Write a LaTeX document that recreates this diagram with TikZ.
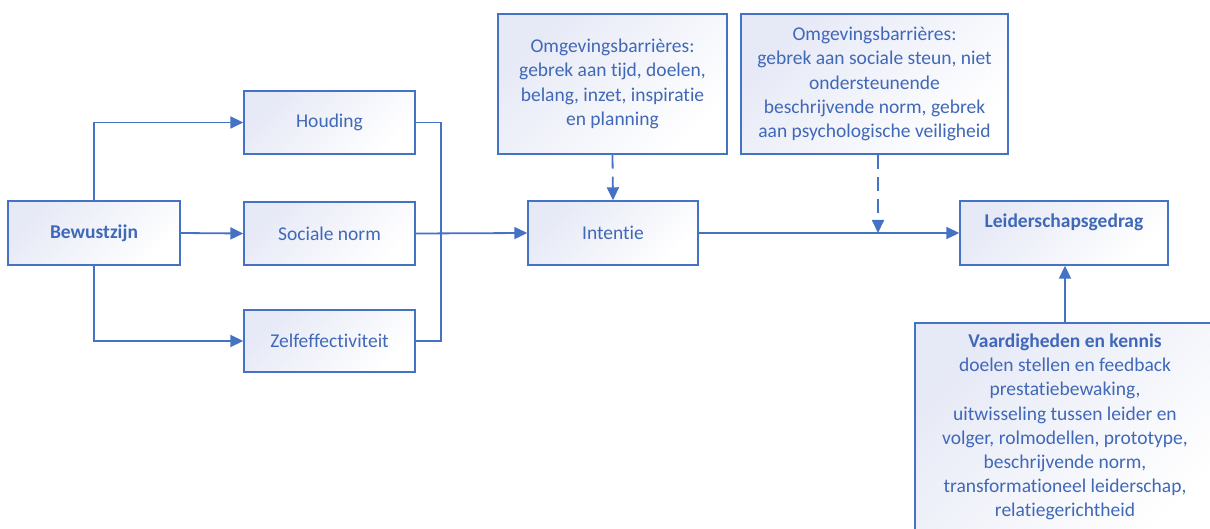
\documentclass[tikz,border=0pt]{standalone}
\usepackage{fontspec}
\setmainfont{Carlito}[Ligatures=NoCommon]
\usetikzlibrary{arrows.meta}
\definecolor{lineblue}{RGB}{68,114,196}
\definecolor{textblue}{RGB}{64,104,184}
\definecolor{boxtint}{RGB}{230,233,246}
\tikzset{
  box/.style={draw=lineblue, line width=1.4pt, top color=boxtint, bottom color=white,
    shading angle=45, text=textblue, align=center, inner sep=0pt,
    font=\fontsize{19.5}{24.2}\selectfont},
  conn/.style={draw=lineblue, line width=1.8pt, -{Triangle[length=13pt,width=12pt]}},
  link/.style={draw=lineblue, line width=1.8pt},
  dashlink/.style={conn, dash pattern=on 14pt off 8pt},
  toptext/.style={text=textblue, align=center, font=\fontsize{19.5}{24.2}\selectfont}
}
\begin{document}
\begin{tikzpicture}[x=1pt, y=-1pt]
\useasboundingbox (0,0) rectangle (1210,529);
% left column
\node[box, minimum width=172pt, minimum height=64pt] (bew) at (94,233) {\textbf{Bewustzijn}};
\node[box, minimum width=171pt, minimum height=63pt] (houd) at (329.5,122.5) {Houding};
\node[box, minimum width=171pt, minimum height=63pt] (soc) at (329.5,233.5) {Sociale norm};
\node[box, minimum width=171pt, minimum height=62pt] (zelf) at (329.5,341) {Zelfeffectiviteit};
% middle
\node[box, minimum width=170pt, minimum height=64pt] (int) at (613,233) {Intentie};
\node[box, minimum width=229pt, minimum height=140pt] (bar1) at (612.5,84)
  {Omgevingsbarrières:\\gebrek aan tijd, doelen,\\belang, inzet, inspiratie\\en planning};
\node[box, minimum width=267pt, minimum height=140pt] (bar2) at (874.5,84)
  {Omgevingsbarrières:\\gebrek aan sociale steun, niet\\ondersteunende\\beschrijvende norm, gebrek\\aan psychologische veiligheid};
% right
\node[box, minimum width=208pt, minimum height=64pt,
  label={[toptext, anchor=north, yshift=-10pt]north:\textbf{Leiderschapsgedrag}}] (lei) at (1064,233) {};
\node[box, minimum width=300pt, minimum height=220pt,
  label={[toptext, anchor=north, yshift=-8pt]north:{\textbf{Vaardigheden en kennis}\\doelen stellen en feedback\\prestatiebewaking,\\uitwisseling tussen leider en\\volger, rolmodellen, prototype,\\beschrijvende norm,\\transformationeel leiderschap,\\relatiegerichtheid}}] (vaard) at (1065,433) {};
% connectors
\coordinate (join) at (441,233);
\coordinate (drop) at (878,233);
\draw[conn] (bew.north) |- (houd.west);
\draw[conn] (bew.south) |- (zelf.west);
\draw[conn] (bew.east) -- (soc.west);
\draw[link] (houd.east) -| (join);
\draw[link] (zelf.east) -| (join);
\draw[conn] (soc.east) -- (int.west);
\draw[dashlink] (bar1.south) -- (int.north);
\draw[conn] (int.east) -- (lei.west);
\draw[dashlink] (drop|-bar2.south) -- (drop);
\draw[conn] (vaard.north) -- (vaard.north|-lei.south);
\end{tikzpicture}
\end{document}
